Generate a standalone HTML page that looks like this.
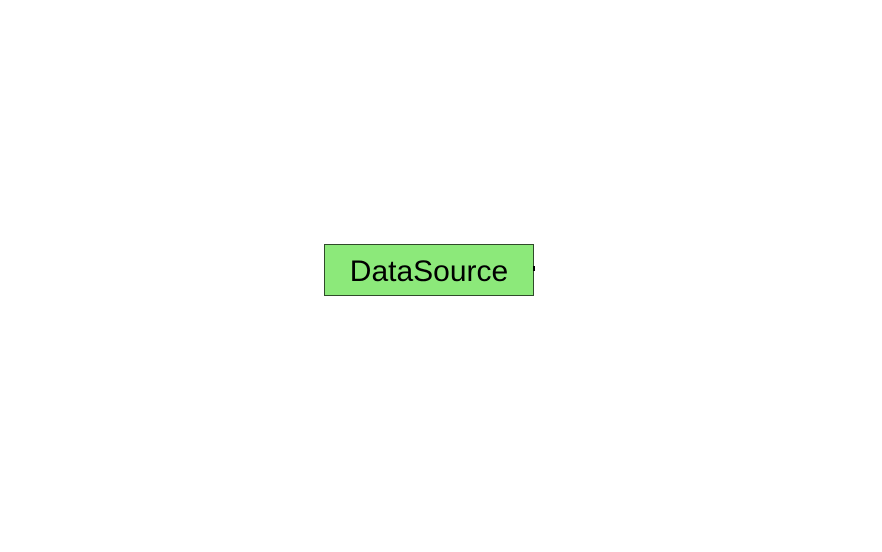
<!DOCTYPE html>
<html><head><style>
html,body{margin:0;padding:0;background:#fff;width:882px;height:552px;overflow:hidden}
.box{position:absolute;left:324px;top:244px;width:208px;height:50px;background:#8ce97a;border:1px solid #2f4a2a;display:flex;align-items:center;justify-content:center;font-family:"Liberation Sans",sans-serif;font-size:30px;color:#000;padding-top:3px;box-sizing:content-box;height:47px}
.tick{position:absolute;left:533px;top:266px;width:2px;height:5px;background:#000}
</style></head><body>
<div class="box">DataSource</div>
<div class="tick"></div>
</body></html>
